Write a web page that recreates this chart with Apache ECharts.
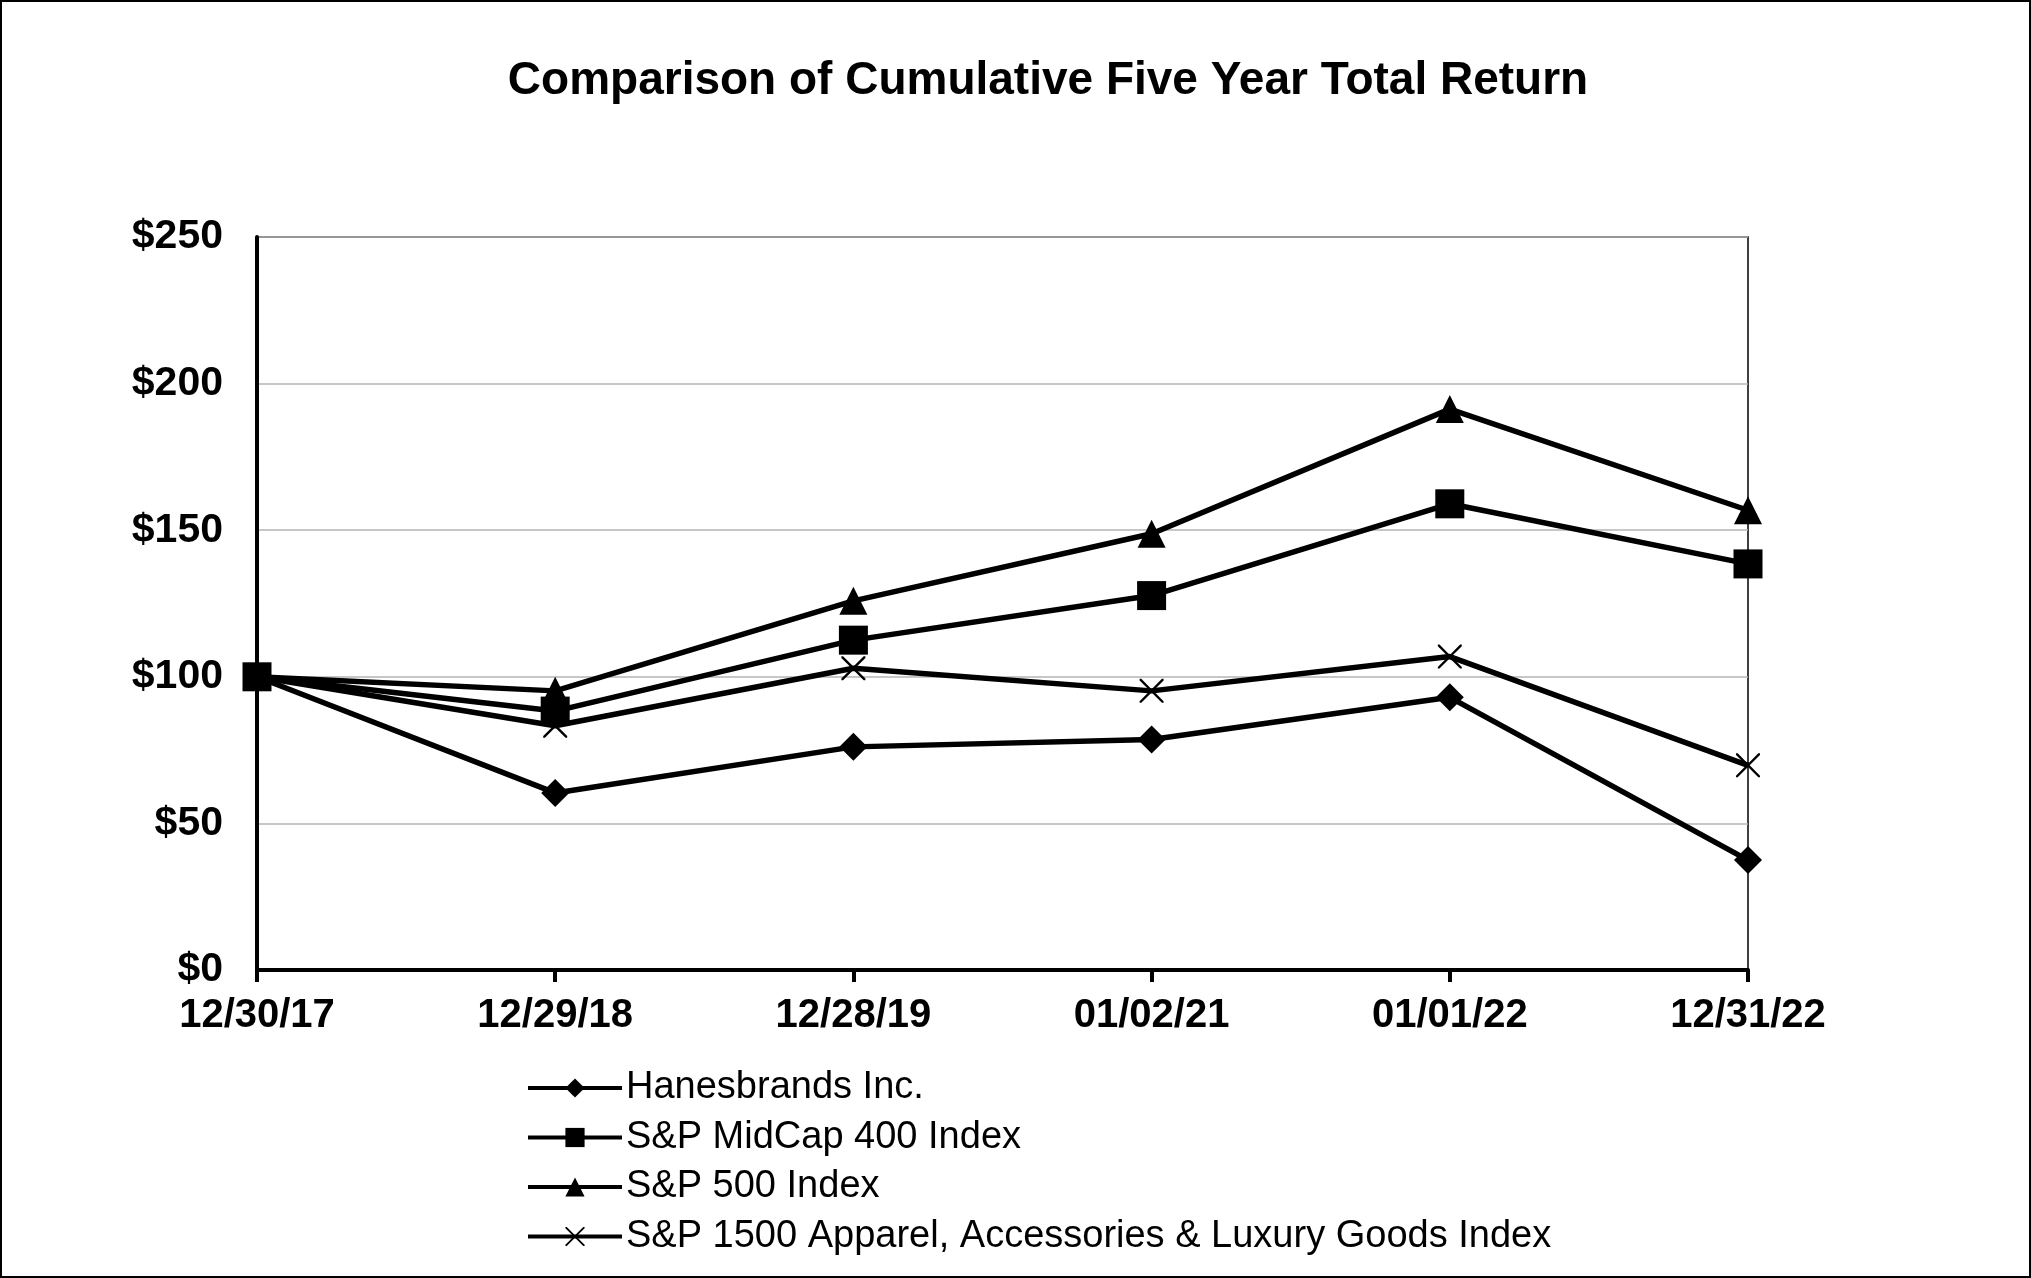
<!DOCTYPE html>
<html>
<head>
<meta charset="utf-8">
<script src="https://cdn.jsdelivr.net/npm/echarts@6/dist/echarts.min.js"></script>
<style>
html,body{margin:0;padding:0;background:#fff;}
#chart{position:absolute;left:0;top:0;width:2031px;height:1278px;}
#frame{position:absolute;left:0;top:0;width:2031px;height:1278px;box-sizing:border-box;border:2px solid #000;pointer-events:none;}
</style>
</head>
<body>
<div id="chart"></div>
<div id="frame"></div>
<script>
const categories = ['12/30/17', '12/29/18', '12/28/19', '01/02/21', '01/01/22', '12/31/22'];
const yTicks = [0, 50, 100, 150, 200, 250];
const hanesbrands = [100, 60.4, 76.1, 78.6, 93.0, 37.5];
const midcap400 = [100, 88.3, 112.5, 127.7, 159.0, 138.5];
const sp500 = [100, 95.2, 125.9, 148.8, 191.3, 156.8];
const apparel = [100, 83.3, 102.9, 95.2, 106.9, 69.8];
const seriesNames = ['Hanesbrands Inc.', 'S&P MidCap 400 Index', 'S&P 500 Index', 'S&P 1500 Apparel, Accessories & Luxury Goods Index'];

const xPath = 'path://M0,0 L7,0 L50,43 L93,0 L100,0 L100,7 L57,50 L100,93 L100,100 L93,100 L50,57 L7,100 L0,100 L0,93 L43,50 L0,7 Z';

const chart = echarts.init(document.getElementById('chart'), null, {renderer: 'canvas'});
const FONT = 'Liberation Sans, Arial, sans-serif';

function mk(name, data, symbol, size) {
  return {
    name: name,
    type: 'line',
    data: data,
    symbol: symbol,
    symbolSize: size,
    showAllSymbol: true,
    lineStyle: {color: '#000', width: 5.5},
    itemStyle: {color: '#000', borderWidth: 0},
    emphasis: {disabled: true},
    animation: false,
    z: 3
  };
}

chart.setOption({
  animation: false,
  backgroundColor: '#fff',
  title: {
    text: 'Comparison of Cumulative Five Year Total Return',
    left: 1043,
    textAlign: 'center',
    top: 53,
    textStyle: {fontFamily: FONT, fontWeight: 'bold', fontSize: 46, color: '#000'}
  },
  grid: {
    left: 257, top: 237, width: 1491, height: 733,
    show: true, borderColor: '#000', borderWidth: 1.5, backgroundColor: 'transparent',
    containLabel: false
  },
  legend: {
    data: seriesNames,
    orient: 'vertical',
    left: 521,
    top: 1063,
    itemWidth: 94,
    itemHeight: 24,
    itemGap: 9.5,
    lineStyle: {width: 4},
    textStyle: {fontFamily: FONT, fontSize: 38, color: '#000', lineHeight: 40, padding: [0, 0, 0, -1]},
    selectedMode: false
  },
  xAxis: {
    type: 'category',
    data: categories,
    boundaryGap: false,
    axisLine: {lineStyle: {color: '#000', width: 4}},
    axisTick: {show: true, alignWithLabel: true, length: 12, lineStyle: {color: '#000', width: 4}},
    axisLabel: {fontFamily: FONT, fontWeight: 'bold', fontSize: 40, color: '#000', margin: 26, interval: 0},
    splitLine: {show: false}
  },
  yAxis: {
    type: 'value',
    min: yTicks[0],
    max: yTicks[yTicks.length - 1],
    interval: 50,
    axisLine: {show: true, lineStyle: {color: '#000', width: 4}},
    axisTick: {show: false},
    axisLabel: {fontFamily: FONT, fontWeight: 'bold', fontSize: 41, color: '#000', margin: 34,
      formatter: v => '$' + v},
    splitLine: {show: true, lineStyle: {color: '#b4b4b4', width: 1.5}}
  },
  series: [
    mk(seriesNames[0], hanesbrands, 'diamond', 28),
    mk(seriesNames[1], midcap400, 'rect', 29),
    mk(seriesNames[2], sp500, 'triangle', 28),
    mk(seriesNames[3], apparel, xPath, 24)
  ]
});
</script>
</body>
</html>
